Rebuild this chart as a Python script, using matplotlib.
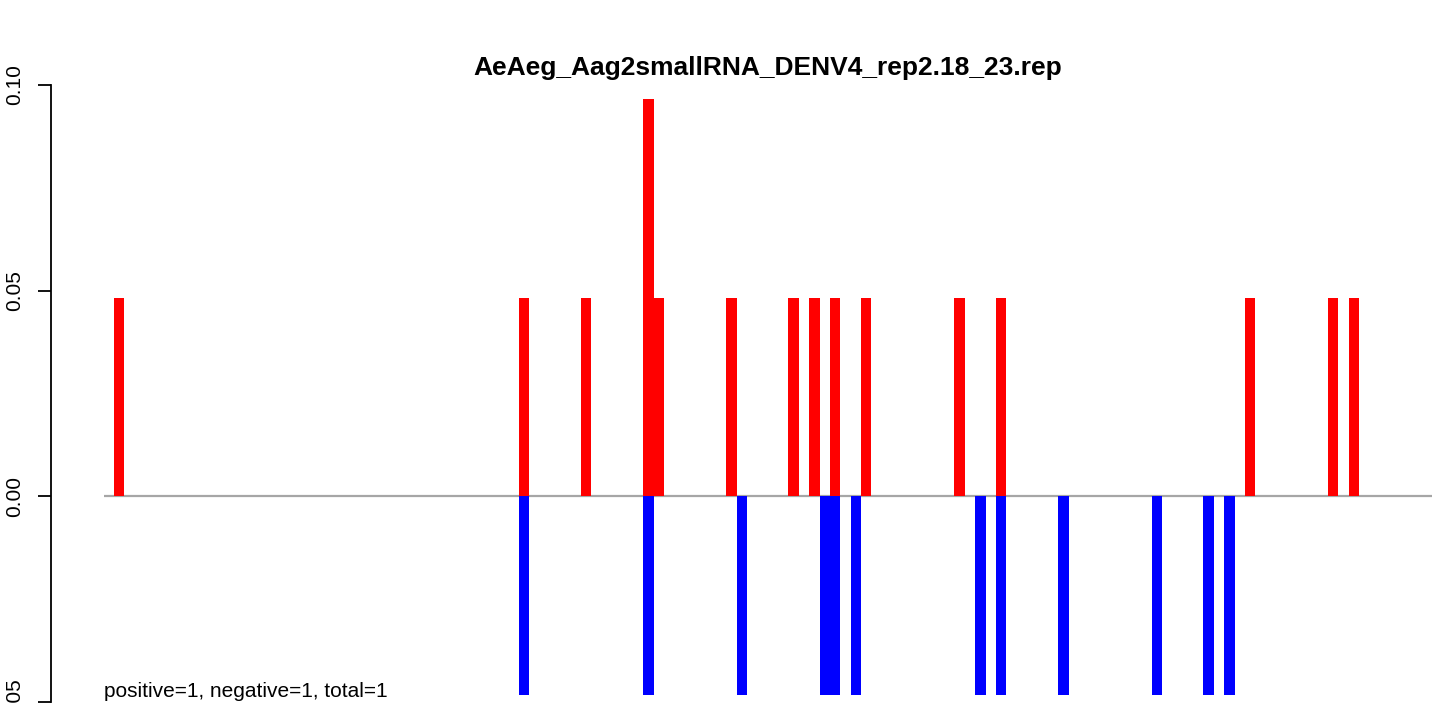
import matplotlib
matplotlib.use("Agg")
import matplotlib.pyplot as plt

plt.rcParams['font.family'] = ['Liberation Sans', 'DejaVu Sans']

title = "AeAeg_Aag2smallRNA_DENV4_rep2.18_23.rep"
footer = "positive=1, negative=1, total=1"

# bar slots (position index along the sequence) and normalized values
pos_slots = [0, 39, 45, 51, 52, 59, 65, 67, 69, 72, 81, 85, 109, 117, 119]
pos_values = [0.0483, 0.0483, 0.0483, 0.0966, 0.0483, 0.0483, 0.0483, 0.0483,
              0.0483, 0.0483, 0.0483, 0.0483, 0.0483, 0.0483, 0.0483]
neg_slots = [39, 51, 60, 68, 69, 71, 83, 85, 91, 100, 105, 107]
neg_values = [-0.0483] * 12
y_ticks = [-0.05, 0.00, 0.05, 0.10]
y_ticklabels = ["-0.05", "0.00", "0.05", "0.10"]

W, H, DPI = 1439, 703, 100
fig = plt.figure(figsize=(W / DPI, H / DPI), dpi=DPI)

left_px, right_px = 104, 1432
top_px, bot_px = 60, 727
ax = fig.add_axes([left_px / W, (H - bot_px) / H,
                   (right_px - left_px) / W, (bot_px - top_px) / H])
ax.set_xlim(-0.964, 127.03)
ax.set_ylim(-0.056, 0.106)

ax.axhline(0, color="#A6A6A6", lw=1.6, zorder=1)
ax.bar(pos_slots, pos_values, width=1.0, align="edge", color="#FF0000",
       linewidth=0, zorder=2)
ax.bar(neg_slots, neg_values, width=1.0, align="edge", color="#0000FF",
       linewidth=0, zorder=2)

for s in ["top", "right", "bottom"]:
    ax.spines[s].set_visible(False)
ax.spines["left"].set_position(("outward", 53 * 72 / DPI))
ax.spines["left"].set_bounds(-0.05, 0.10)
ax.spines["left"].set_linewidth(1.3)
ax.set_xticks([])
ax.set_yticks(y_ticks)
ax.set_yticklabels(y_ticklabels, rotation=90, va="center", fontsize=15)
ax.tick_params(axis="y", length=13 * 72 / DPI, width=1.3, pad=10)

fig.text((left_px + right_px) / 2 / W, (H - 75) / H, title, ha="center",
         va="baseline", fontsize=19, fontweight="bold")
fig.text(left_px / W, (H - 697) / H, footer, ha="left", va="baseline",
         fontsize=15)

fig.savefig("out.png", dpi=DPI)
